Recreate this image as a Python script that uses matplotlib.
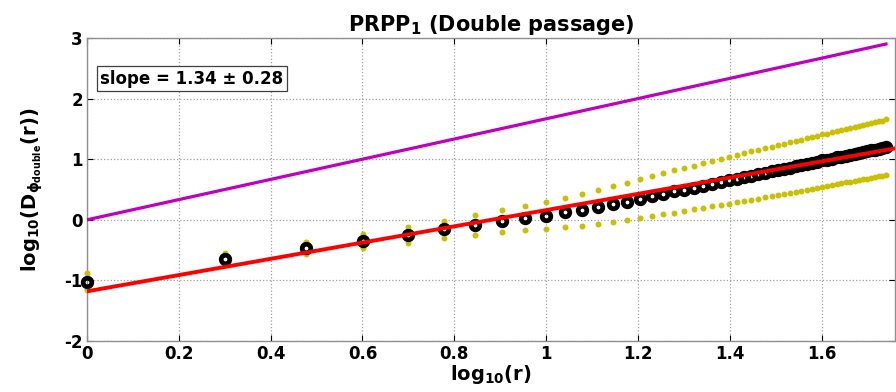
import numpy as np
import matplotlib
matplotlib.use("Agg")
import matplotlib.pyplot as plt

plt.rcParams['font.family'] = ['DejaVu Sans']
plt.rcParams['mathtext.fontset'] = 'custom'
plt.rcParams['mathtext.rm'] = 'DejaVu Sans:bold'
plt.rcParams['mathtext.it'] = 'DejaVu Sans:bold'
plt.rcParams['mathtext.bf'] = 'DejaVu Sans:bold'
plt.rcParams['axes.unicode_minus'] = False

# separations r (pixels) and measured structure function (log10)
r_values = list(range(1, 56))
log_d = [-1.02, -0.65, -0.47, -0.35, -0.25, -0.16, -0.08, -0.02, 0.03, 0.07,
         0.125, 0.16, 0.21, 0.26, 0.30, 0.35, 0.39, 0.43, 0.47, 0.50,
         0.53, 0.565, 0.595, 0.625, 0.65, 0.68, 0.70, 0.73, 0.75, 0.78,
         0.80, 0.82, 0.84, 0.86, 0.88, 0.90, 0.92, 0.94, 0.96, 0.98,
         0.99, 1.01, 1.03, 1.04, 1.06, 1.07, 1.09, 1.10, 1.12, 1.13,
         1.15, 1.16, 1.17, 1.18, 1.20]
log_d_err = [0.14, 0.10, 0.10, 0.12, 0.135, 0.14, 0.165, 0.18, 0.20, 0.22,
             0.24, 0.265, 0.28, 0.295, 0.305, 0.32, 0.33, 0.34, 0.35, 0.355,
             0.36, 0.365, 0.37, 0.38, 0.39, 0.393, 0.397, 0.40, 0.403, 0.406,
             0.409, 0.411, 0.414, 0.417, 0.419, 0.422, 0.424, 0.426, 0.429, 0.431,
             0.433, 0.435, 0.437, 0.439, 0.441, 0.443, 0.445, 0.447, 0.448, 0.450,
             0.452, 0.453, 0.455, 0.456, 0.458]

fit_slope = 1.34
fit_slope_err = 0.28
fit_intercept = -1.18
kolmogorov_slope = 5.0 / 3.0

x = np.log10(r_values)
y = np.array(log_d)
err = np.array(log_d_err)

fig = plt.figure(figsize=(8.96, 3.92), dpi=100)
ax = fig.add_axes([87 / 896, 51 / 392, 808 / 896, 303 / 392])

yellow = '#c8c000'
ax.plot(x, y + err, 'o', color=yellow, markersize=4.3, markeredgewidth=0, clip_on=False, zorder=3)
ax.plot(x, y - err, 'o', color=yellow, markersize=4.3, markeredgewidth=0, clip_on=False, zorder=3)
ax.plot(x, y, 'o', color='black', markerfacecolor='none', markersize=6.2,
        markeredgewidth=3.4, clip_on=False, zorder=4)

x_fit = np.array([0, 1.76])
ax.plot(x_fit, fit_intercept + fit_slope * x_fit, color='red', linewidth=2.8, zorder=5)
x_k = np.array([0, x[-1]])
ax.plot(x_k, kolmogorov_slope * x_k, color='#c000c0', linewidth=2.3, zorder=5)

ax.set_xlim(0, 1.76)
ax.set_ylim(-2, 3)
ax.set_xticks(np.arange(0, 1.61, 0.2))
ax.set_xticklabels(['0', '0.2', '0.4', '0.6', '0.8', '1', '1.2', '1.4', '1.6'])
ax.set_yticks(range(-2, 4))
ax.grid(True, linestyle=':', color='#a0a0a0', linewidth=0.9)
ax.tick_params(direction='in', length=4, width=0.8, top=True, right=True,
               labelsize=12, pad=3)
for lab in ax.get_xticklabels() + ax.get_yticklabels():
    lab.set_fontweight('bold')
for sp in ax.spines.values():
    sp.set_color('#909090')
    sp.set_linewidth(1.0)

ax.set_title(r'PRPP$_\mathbf{1}$ (Double passage)', fontsize=15, fontweight='bold', pad=5)
ax.set_xlabel(r'log$_{10}$(r)', fontsize=14, fontweight='bold', labelpad=0)
ax.set_ylabel(r'log$_{10}$(D$_{\phi_{double}}$(r))', fontsize=14, fontweight='bold', labelpad=14)

ax.text(0.13, 0.866, 'slope = %.2f \u00b1 %.2f' % (fit_slope, fit_slope_err),
        transform=ax.transAxes, ha='center', va='center', fontsize=12, fontweight='bold',
        bbox=dict(boxstyle='square,pad=0.2', facecolor='white', edgecolor='#404040', linewidth=0.9),
        zorder=6)

fig.savefig('out.png', dpi=100)
